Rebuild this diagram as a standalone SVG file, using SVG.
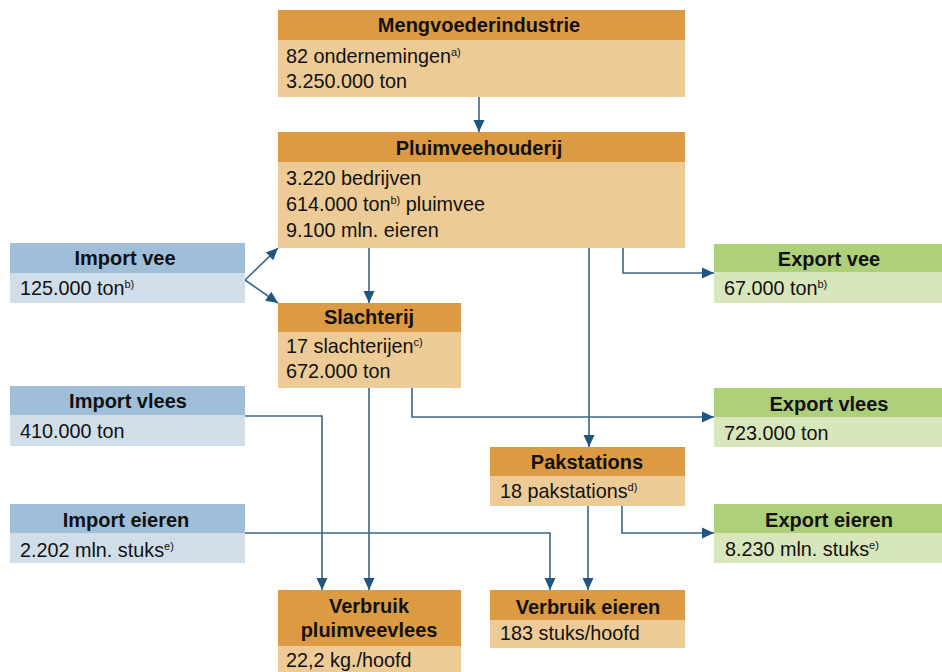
<svg xmlns="http://www.w3.org/2000/svg" width="942" height="672" viewBox="0 0 942 672">
<defs>
<style>
.ho{fill:#DC9A42}.bo{fill:#EDCB97}
.hb{fill:#A0BED8}.bb{fill:#D0DEEA}
.hg{fill:#AFD07A}.bg{fill:#D8E6BC}
text{font-family:"Liberation Sans",Arial,sans-serif;fill:#111}
.h{font-size:20px;font-weight:bold;text-anchor:middle}
.t{font-size:19.8px}
.s{font-size:11px}
.c{fill:none;stroke:#3A6489;stroke-width:1.6}
</style>
<marker id="ah" markerUnits="userSpaceOnUse" markerWidth="14" markerHeight="14" viewBox="0 0 14 14" refX="12" refY="7" orient="auto">
<path d="M0,1.5 L12,7 L0,12.5 Z" fill="#1F5581"/>
</marker>
</defs>
<rect width="942" height="672" fill="#fff"/>

<g id="connectors">
<path class="c" d="M479,97 V132" marker-end="url(#ah)"/>
<path class="c" d="M245,280 L278,248" marker-end="url(#ah)"/>
<path class="c" d="M245,280 L278,303" marker-end="url(#ah)"/>
<path class="c" d="M369,248 V303" marker-end="url(#ah)"/>
<path class="c" d="M623,248 V273 H714" marker-end="url(#ah)"/>
<path class="c" d="M589,248 V447" marker-end="url(#ah)"/>
<path class="c" d="M412,388 V417 H714" marker-end="url(#ah)"/>
<path class="c" d="M369,388 V590" marker-end="url(#ah)"/>
<path class="c" d="M245,416 H322 V590" marker-end="url(#ah)"/>
<path class="c" d="M245,533 H550 V590" marker-end="url(#ah)"/>
<path class="c" d="M588,506 V590" marker-end="url(#ah)"/>
<path class="c" d="M622,506 V533 H714" marker-end="url(#ah)"/>
</g>

<g id="mengvoederindustrie">
<rect class="ho" x="278" y="10" width="407" height="30"/>
<rect class="bo" x="278" y="40" width="407" height="57"/>
<text class="h" x="479" y="32">Mengvoederindustrie</text>
<text class="t" x="286" y="63">82 ondernemingen<tspan class="s" dy="-7">a)</tspan></text>
<text class="t" x="286" y="88">3.250.000 ton</text>
</g>

<g id="pluimveehouderij">
<rect class="ho" x="278" y="132" width="407" height="30"/>
<rect class="bo" x="278" y="162" width="407" height="86"/>
<text class="h" x="479" y="155">Pluimveehouderij</text>
<text class="t" x="286" y="185">3.220 bedrijven</text>
<text class="t" x="286" y="211">614.000 ton<tspan class="s" dy="-7">b)</tspan><tspan dy="7"> pluimvee</tspan></text>
<text class="t" x="286" y="237">9.100 mln. eieren</text>
</g>

<g id="import-vee">
<rect class="hb" x="10" y="243" width="235" height="30"/>
<rect class="bb" x="10" y="273" width="235" height="30"/>
<text class="h" x="125" y="265">Import vee</text>
<text class="t" x="20" y="295">125.000 ton<tspan class="s" dy="-7">b)</tspan></text>
</g>

<g id="slachterij">
<rect class="ho" x="278" y="303" width="183" height="29"/>
<rect class="bo" x="278" y="332" width="183" height="56"/>
<text class="h" x="369" y="324">Slachterij</text>
<text class="t" x="286" y="353">17 slachterijen<tspan class="s" dy="-7">c)</tspan></text>
<text class="t" x="286" y="378">672.000 ton</text>
</g>

<g id="export-vee">
<rect class="hg" x="714" y="244" width="228" height="28"/>
<rect class="bg" x="714" y="272" width="228" height="31"/>
<text class="h" x="829" y="266">Export vee</text>
<text class="t" x="724" y="295">67.000 ton<tspan class="s" dy="-7">b)</tspan></text>
</g>

<g id="import-vlees">
<rect class="hb" x="10" y="386" width="235" height="29"/>
<rect class="bb" x="10" y="415" width="235" height="31"/>
<text class="h" x="128" y="408">Import vlees</text>
<text class="t" x="20" y="438">410.000 ton</text>
</g>

<g id="export-vlees">
<rect class="hg" x="714" y="388" width="228" height="29"/>
<rect class="bg" x="714" y="417" width="228" height="30"/>
<text class="h" x="829" y="411">Export vlees</text>
<text class="t" x="724" y="440">723.000 ton</text>
</g>

<g id="pakstations">
<rect class="ho" x="490" y="447" width="195" height="29"/>
<rect class="bo" x="490" y="476" width="195" height="30"/>
<text class="h" x="587" y="469">Pakstations</text>
<text class="t" x="500" y="498">18 pakstations<tspan class="s" dy="-7">d)</tspan></text>
</g>

<g id="import-eieren">
<rect class="hb" x="10" y="504" width="235" height="29"/>
<rect class="bb" x="10" y="533" width="235" height="30"/>
<text class="h" x="126" y="527">Import eieren</text>
<text class="t" x="20" y="557">2.202 mln. stuks<tspan class="s" dy="-7">e)</tspan></text>
</g>

<g id="export-eieren">
<rect class="hg" x="714" y="504" width="228" height="29"/>
<rect class="bg" x="714" y="533" width="228" height="30"/>
<text class="h" x="829" y="527">Export eieren</text>
<text class="t" x="725" y="556">8.230 mln. stuks<tspan class="s" dy="-7">e)</tspan></text>
</g>

<g id="verbruik-pluimveevlees">
<rect class="ho" x="278" y="590" width="183" height="56"/>
<rect class="bo" x="278" y="646" width="183" height="26"/>
<text class="h" x="369" y="613">Verbruik</text>
<text class="h" x="369" y="637">pluimveevlees</text>
<text class="t" x="286" y="667">22,2 kg./hoofd</text>
</g>

<g id="verbruik-eieren">
<rect class="ho" x="490" y="590" width="195" height="30"/>
<rect class="bo" x="490" y="620" width="195" height="28"/>
<text class="h" x="588" y="614">Verbruik eieren</text>
<text class="t" x="500" y="640">183 stuks/hoofd</text>
</g>
</svg>
